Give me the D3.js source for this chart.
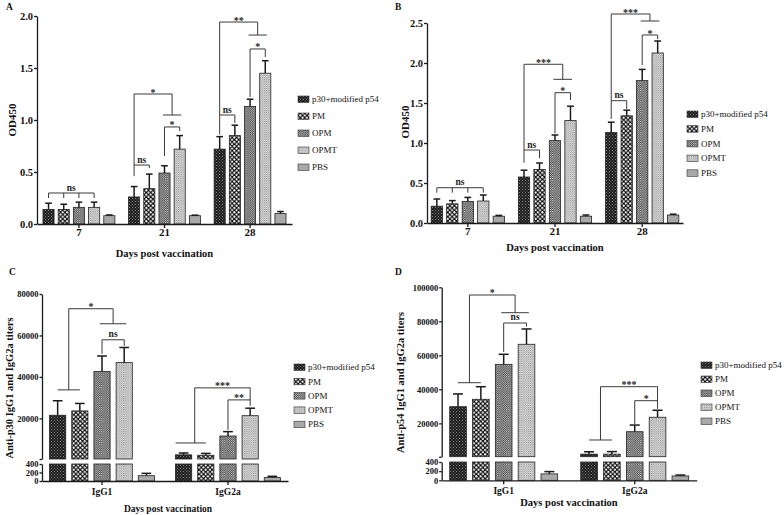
<!DOCTYPE html>
<html><head><meta charset="utf-8">
<script src="https://cdn.jsdelivr.net/npm/d3@7"></script>
<style>body{margin:0;background:#fff}</style>
</head><body>
<script>
// ---------------- DATA ----------------
const seriesNames = ["p30+modified p54", "PM", "OPM", "OPMT", "PBS"];
const daysAB = ["7", "21", "28"];
const isotypes = ["IgG1", "IgG2a"];

// Panel A (OD450, p30)  rows = series, cols = days
const aValues = [[0.14, 0.26, 0.72], [0.14, 0.34, 0.85], [0.16, 0.49, 1.13], [0.16, 0.72, 1.45], [0.08, 0.08, 0.10]];
const aErrors = [[0.06, 0.10, 0.12], [0.05, 0.14, 0.10], [0.05, 0.07, 0.07], [0.05, 0.13, 0.12], [0.007, 0.005, 0.02]];
const aTicks = [0, 0.5, 1.0, 1.5, 2.0];

// Panel B (OD450, p54)
const bValues = [[0.21, 0.575, 1.13], [0.24, 0.67, 1.34], [0.27, 1.03, 1.78], [0.275, 1.28, 2.125], [0.085, 0.085, 0.10]];
const bErrors = [[0.09, 0.085, 0.13], [0.04, 0.08, 0.07], [0.05, 0.07, 0.14], [0.075, 0.18, 0.15], [0.01, 0.015, 0.01]];
const bTicks = [0, 0.5, 1.0, 1.5, 2.0, 2.5];

// Panel C (anti-p30 titers) cols = IgG1, IgG2a
const cValues = [[21500, 2400], [23600, 2200], [42600, 11500], [46900, 21300], [125, 80]];
const cErrors = [[7000, 900], [3600, 900], [7500, 2100], [7300, 3600], [55, 30]];
const cTicksUpper = [400, 20000, 40000, 60000, 80000];
const cTicksLower = [0, 200, 400];

// Panel D (anti-p54 titers)
const dValues = [[29800, 1900], [34150, 1900], [54700, 15100], [66500, 23600], [140, 95]];
const dErrors = [[7500, 1400], [7400, 1500], [5900, 3900], [9000, 4100], [50, 20]];
const dTicksUpper = [400, 20000, 40000, 60000, 80000, 100000];
const dTicksLower = [0, 200, 400];

// significance annotations: polylines in (group, bar index, value) space
const aLines = [
  {g:0, pts:[[0,0.25],[0,0.298],[3,0.298],[3,0.25]]}, {g:0, pts:[[1,0.298],[1,0.25]]}, {g:0, pts:[[2,0.298],[2,0.25]]},
  {g:1, pts:[[0,0.46],[0,1.25],[2.5,1.25],[2.5,1.048]]}, {g:1, pts:[[1.9,1.048],[3.1,1.048]]},
  {g:1, pts:[[0,0.567],[1,0.567],[1,0.538]]}, {g:1, pts:[[2,0.654],[2,0.933],[3,0.933],[3,0.894]]},
  {g:2, pts:[[0,0.86],[0,1.942],[2.5,1.942],[2.5,1.817]]}, {g:2, pts:[[1.9,1.817],[3.1,1.817]]},
  {g:2, pts:[[0,1.048],[1,1.048],[1,0.97]]}, {g:2, pts:[[2,1.221],[2,1.683],[3,1.683],[3,1.606]]}
];
const aMarks = [
  {g:0,b:1.5,v:0.298,t:"ns"},
  {g:1,b:1.25,v:1.25,t:"*"}, {g:1,b:0.5,v:0.567,t:"ns"}, {g:1,b:2.5,v:0.933,t:"*"},
  {g:2,b:1.25,v:1.942,t:"**"}, {g:2,b:0.5,v:1.048,t:"ns"}, {g:2,b:2.5,v:1.683,t:"*"}
];
const bLines = [
  {g:0, pts:[[0,0.379],[0,0.441],[3,0.441],[3,0.379]]}, {g:0, pts:[[1,0.441],[1,0.379]]}, {g:0, pts:[[2,0.441],[2,0.379]]},
  {g:1, pts:[[0,0.754],[0,1.984],[2.5,1.984],[2.5,1.796]]}, {g:1, pts:[[1.9,1.796],[3.1,1.796]]},
  {g:1, pts:[[0,0.9125],[1,0.9125],[1,0.81]]}, {g:1, pts:[[2,1.121],[2,1.629],[3,1.629],[3,1.5375]]},
  {g:2, pts:[[0,1.30],[0,2.6125],[2.5,2.6125],[2.5,2.525]]}, {g:2, pts:[[1.9,2.525],[3.1,2.525]]},
  {g:2, pts:[[0,1.529],[1,1.529],[1,1.425]]}, {g:2, pts:[[2,1.975],[2,2.35],[3,2.35],[3,2.3]]}
];
const bMarks = [
  {g:0,b:1.5,v:0.441,t:"ns"},
  {g:1,b:1.25,v:1.984,t:"***"}, {g:1,b:0.5,v:0.9125,t:"ns"}, {g:1,b:2.5,v:1.629,t:"*"},
  {g:2,b:1.25,v:2.6125,t:"***"}, {g:2,b:0.5,v:1.529,t:"ns"}, {g:2,b:2.5,v:2.35,t:"*"}
];
const cLines = [
  {g:0, pts:[[0.5,33748],[0.5,72895],[2.5,72895],[2.5,65646]]}, {g:0, pts:[[0,33748],[1,33748]]},
  {g:0, pts:[[1.9,65646],[3.1,65646]]}, {g:0, pts:[[2,51147],[2,57913],[3,57913],[3,55000]]},
  {g:1, pts:[[0.5,8133],[0.5,34714],[3,34714],[3,26000]]}, {g:1, pts:[[-0.36,8133],[1,8133]]},
  {g:1, pts:[[2,14416],[2,28915],[3,28915]]}
];
const cMarks = [
  {g:0,b:1.5,v:72895,t:"*"}, {g:0,b:2.5,v:57913,t:"ns"},
  {g:1,b:1.75,v:34714,t:"***"}, {g:1,b:2.5,v:28915,t:"**"}
];
const dLines = [
  {g:0, pts:[[0.5,43912],[0.5,95480],[2.5,95480],[2.5,85072]]}, {g:0, pts:[[0,43912],[1,43912]]},
  {g:0, pts:[[1.9,85072],[3.1,85072]]}, {g:0, pts:[[2,62000],[2,79016],[3,79016],[3,77000]]},
  {g:1, pts:[[0.5,10220],[0.5,41560],[3,41560],[3,28500]]}, {g:1, pts:[[0,10220],[1,10220]]},
  {g:1, pts:[[2,19500],[2,33328],[3,33328]]}
];
const dMarks = [
  {g:0,b:1.5,v:95480,t:"*"}, {g:0,b:2.5,v:79016,t:"ns"},
  {g:1,b:1.75,v:41560,t:"***"}, {g:1,b:2.5,v:33328,t:"*"}
];

// ---------------- DRAWING ----------------
const FONT = "'Liberation Serif','Times New Roman',serif";
const svg = d3.select("body").append("svg").attr("width", 784).attr("height", 515)
  .style("font-family", FONT);
const defs = svg.append("defs");

function pattern(id, size, bg, dots) {
  const p = defs.append("pattern").attr("id", id).attr("width", size).attr("height", size)
    .attr("patternUnits", "userSpaceOnUse");
  p.append("rect").attr("width", size).attr("height", size).attr("fill", bg);
  dots.forEach(d => {
    if (d.r) p.append("circle").attr("cx", d.x).attr("cy", d.y).attr("r", d.r).attr("fill", d.c);
    else p.append("rect").attr("x", d.x).attr("y", d.y).attr("width", d.w).attr("height", d.h).attr("fill", d.c);
  });
}
pattern("pat0", 3, "#1c1c1c", [{x:0,y:0,w:1,h:1,c:"#888"},{x:1.5,y:1.5,w:1,h:1,c:"#777"}]);
pattern("pat1", 4.4, "#111", [{x:1.1,y:1.1,r:1.05,c:"#fff"},{x:3.3,y:3.3,r:1.05,c:"#fff"}]);
pattern("pat2", 2.2, "#3a3a3a", [{x:0,y:0,w:1.1,h:1.1,c:"#d8d8d8"},{x:1.1,y:1.1,w:1.1,h:1.1,c:"#bbb"}]);
pattern("pat3", 2.2, "#e4e4e4", [{x:0,y:0,w:1.1,h:1.1,c:"#8c8c8c"},{x:1.1,y:1.1,w:1.1,h:1.1,c:"#b0b0b0"}]);
pattern("pat4", 4, "#a9a9a9", []);

function drawPanel(p) {
  const g = svg.append("g");
  const x0 = d3.scaleBand().domain(p.groups).range(p.xr).paddingInner(p.pi).paddingOuter(p.po);
  const x1 = d3.scaleBand().domain(d3.range(seriesNames.length)).range([0, x0.bandwidth()]).paddingInner(p.bi);
  const broken = !!p.lower;
  const yv = v => broken ? (v <= p.brk ? p.lower(v) : p.upper(v)) : p.upper(v);
  const bx = (gi, b) => x0(p.groups[gi]) + b * x1.step() + x1.bandwidth() / 2;

  // bars
  p.values.forEach((vals, si) => {
    vals.forEach((v, gi) => {
      const x = x0(p.groups[gi]) + x1(si), w = x1.bandwidth();
      const segs = (broken && v > p.brk) ? [[p.lower(0), p.lower(p.brk)], [p.upper(p.brk), p.upper(v)]] : [[yv(0), yv(v)]];
      segs.forEach(([ya, yb]) => g.append("rect").attr("x", x).attr("y", yb).attr("width", w)
        .attr("height", ya - yb).attr("fill", `url(#pat${si})`).attr("stroke", "#222").attr("stroke-width", 0.8));
      const e = p.errors[si][gi], cx = x + w / 2, yt = yv(v + e), ytop = yv(v);
      g.append("line").attr("x1", cx).attr("x2", cx).attr("y1", ytop).attr("y2", yt).attr("stroke", "#1a1a1a").attr("stroke-width", 1.5);
      g.append("line").attr("x1", cx - w * 0.3).attr("x2", cx + w * 0.3).attr("y1", yt).attr("y2", yt).attr("stroke", "#1a1a1a").attr("stroke-width", 1.5);
    });
  });

  // y axes
  const styleAxis = (sel, fs) => {
    sel.selectAll("path,line").attr("stroke", "#1a1a1a").attr("stroke-width", 1.3);
    sel.selectAll("text").attr("font-family", FONT).attr("font-weight", "bold").attr("font-size", fs).attr("fill", "#111");
  };
  const yUp = g.append("g").attr("transform", `translate(${p.xr[0]},0)`)
    .call(d3.axisLeft(p.upper).tickValues(p.ticksU).tickFormat(d => (broken && d === p.brk) ? "" : p.fmt(d)).tickSize(p.tickLen).tickSizeOuter(0).tickPadding(1));
  styleAxis(yUp, p.tickFs);
  if (broken) {
    const yLo = g.append("g").attr("transform", `translate(${p.xr[0]},0)`)
      .call(d3.axisLeft(p.lower).tickValues(p.ticksL).tickFormat(p.fmt).tickSize(p.tickLen).tickSizeOuter(0).tickPadding(1));
    styleAxis(yLo, p.tickFs);
  }
  // x axis
  const xa = g.append("g").attr("transform", `translate(0,${yv(0)})`)
    .call(d3.axisBottom(x0).tickSize(4).tickSizeOuter(0).tickPadding(p.xPad));
  styleAxis(xa, p.xFs);

  // significance brackets
  const line = d3.line();
  p.lines.forEach(l => {
    g.append("path").attr("d", line(l.pts.map(([b, v]) => [bx(l.g, b), yv(v)])))
      .attr("fill", "none").attr("stroke", "#3a3a3a").attr("stroke-width", 1);
  });
  p.marks.forEach(m => {
    g.append("text").attr("x", bx(m.g, m.b)).attr("y", yv(m.v) + (m.t === "ns" ? -2.5 : 1.5))
      .attr("text-anchor", "middle").attr("font-weight", "bold")
      .attr("font-size", m.t === "ns" ? 9.5 : 10).attr("fill", "#222").text(m.t);
  });

  // titles
  g.append("text").attr("x", p.xTitle[0]).attr("y", p.xTitle[1]).attr("text-anchor", "middle")
    .attr("font-weight", "bold").attr("font-size", p.xTitleFs).attr("fill", "#111").text("Days post vaccination");
  g.append("text").attr("transform", `translate(${p.yTitle[0]},${p.yTitle[1]}) rotate(-90)`).attr("text-anchor", "middle")
    .attr("font-weight", "bold").attr("font-size", p.yTitleFs).attr("fill", "#111").text(p.yTitleText);
  g.append("text").attr("x", p.letter[0]).attr("y", p.letter[1]).attr("font-weight", "bold")
    .attr("font-size", 9.5).attr("fill", "#111").text(p.letterText);

  // legend
  seriesNames.forEach((name, i) => {
    const y = p.legY[0] + i * p.legY[1];
    g.append("rect").attr("x", p.legX).attr("y", y - 3).attr("width", 11).attr("height", 6.5)
      .attr("fill", `url(#pat${i})`).attr("stroke", "#333").attr("stroke-width", 0.6);
    g.append("text").attr("x", p.legX + 14).attr("y", y + 3.2).attr("font-size", 9).attr("fill", "#111").text(name);
  });
}

drawPanel({
  groups: daysAB, values: aValues, errors: aErrors, lines: aLines, marks: aMarks,
  xr: [37, 292], pi: 0.16, po: 0.07, bi: 0.27,
  upper: d3.scaleLinear().domain([0, 2]).range([224, 16]), ticksU: aTicks, fmt: d3.format(".1f"),
  tickLen: 3, tickFs: 10.5, xFs: 11, xPad: 0,
  xTitle: [164.5, 257], xTitleFs: 10.5, yTitle: [16, 120], yTitleFs: 11, yTitleText: "OD450",
  letter: [6, 9.5], letterText: "A", legX: 298, legY: [99, 17]
});
drawPanel({
  groups: daysAB, values: bValues, errors: bErrors, lines: bLines, marks: bMarks,
  xr: [427, 683], pi: 0.16, po: 0.048, bi: 0.27,
  upper: d3.scaleLinear().domain([0, 2.5]).range([223, 23]), ticksU: bTicks, fmt: d3.format(".1f"),
  tickLen: 3, tickFs: 10.5, xFs: 11, xPad: 0,
  xTitle: [555, 251], xTitleFs: 10.5, yTitle: [408.5, 122], yTitleFs: 11, yTitleText: "OD450",
  letter: [395, 9.5], letterText: "B", legX: 687, legY: [114, 14.7]
});
drawPanel({
  groups: isotypes, values: cValues, errors: cErrors, lines: cLines, marks: cMarks,
  xr: [42, 288], pi: 0.167, po: 0.06, bi: 0.27,
  upper: d3.scaleLinear().domain([400, 80000]).range([459, 294]), lower: d3.scaleLinear().domain([0, 400]).range([481, 464]), brk: 400,
  ticksU: cTicksUpper, ticksL: cTicksLower, fmt: d3.format("d"),
  tickLen: 2.5, tickFs: 8.5, xFs: 9.5, xPad: 3,
  xTitle: [168, 512], xTitleFs: 9.5, yTitle: [13, 388], yTitleFs: 10.5, yTitleText: "Anti-p30 IgG1 and IgG2a titers",
  letter: [9, 275], letterText: "C", legX: 294, legY: [367, 14.3]
});
drawPanel({
  groups: isotypes, values: dValues, errors: dErrors, lines: dLines, marks: dMarks,
  xr: [441.7, 696.7], pi: 0.176, po: 0.061, bi: 0.27,
  upper: d3.scaleLinear().domain([400, 100000]).range([456.7, 287.3]), lower: d3.scaleLinear().domain([0, 400]).range([480.3, 462]), brk: 400,
  ticksU: dTicksUpper, ticksL: dTicksLower, fmt: d3.format("d"),
  tickLen: 2.5, tickFs: 8.5, xFs: 9.5, xPad: 3,
  xTitle: [569, 505.5], xTitleFs: 10.5, yTitle: [404, 382.5], yTitleFs: 10.5, yTitleText: "Anti-p54 IgG1 and IgG2a titers",
  letter: [395, 275], letterText: "D", legX: 701, legY: [365, 14]
});
</script>
</body></html>
